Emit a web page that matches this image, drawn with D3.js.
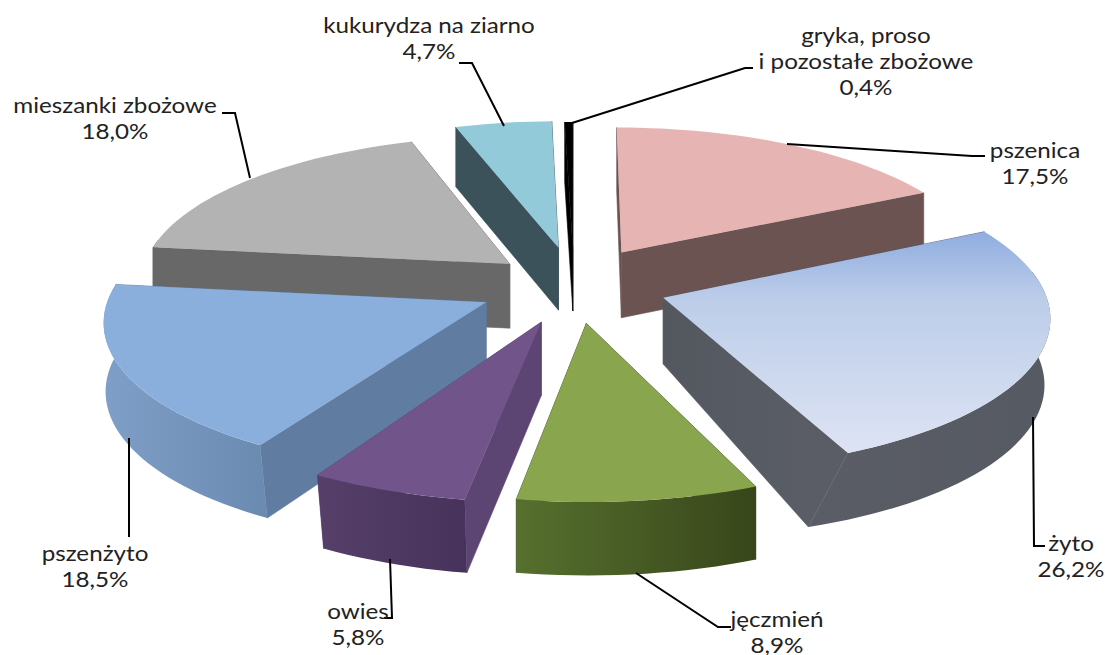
<!DOCTYPE html>
<html><head><meta charset="utf-8">
<script src="https://cdnjs.cloudflare.com/ajax/libs/d3/7.8.5/d3.min.js"></script>
<style>html,body{margin:0;padding:0;background:#fff}svg{display:block}text{font-family:"Lato",sans-serif;font-size:22px;fill:#222;text-anchor:middle}</style>
</head><body><svg id="c" width="1105" height="655"></svg>
<script>
// data
const categories = ["pszenica","żyto","jęczmień","owies","pszenżyto","mieszanki zbożowe","kukurydza na ziarno","gryka, proso|i pozostałe zbożowe"];
const values = [17.5,26.2,8.9,5.8,18.5,18.0,4.7,0.4];
// styles
const topColors = ["#e6b4b3","url(#topRye)","#89a54e","#71558a","#8aafdd","#b3b3b3","#92cad9","#000000"];
const faceColors = ["#6b5352","#53585f","#38461a","#5c4573","#607ca0","#686868","#3b525b","#000000"];
const faceEndColors = ["#6b5352","#5a5d66","#38461a","#5c4573","#607ca0","#686868","#3b525b","#000000"];
const outerFrom = ["#6b5352","#5a5d66","#56702e","#56406a","#7f9fc8","#686868","#3b525b","#000000"];
const outerTo = ["#6b5352","#565a62","#38461a","#46325a","#6a8ab0","#686868","#3b525b","#000000"];
// draw order, back to front
const drawOrder = [5,6,7,0,1,4,3,2];
// label layout: [centre x, first baseline]
const labelPos = [[1035,158],[1071,551],[777,627],[358,619],[95,561],[115,113],[429,33],[866,43]];
const leaders = [
 [[787,144],[972,156],[985,156]],
 [[1033,417],[1034,546],[1045,546]],
 [[636,573],[718,627],[731,627]],
 [[390,559],[392,618],[384,618]],
 [[129,438],[129,537]],
 [[250,178],[235,113],[222,113]],
 [[504,126],[472,63],[459,63]],
 [[572,123],[745,68],[753,68]]
];
// projection
const cx=575, cy=285, Rx=380, Ry=150, P=0.11, depth=66;
const explode=[.26,.245,.25,.255,.255,.225,.26,.25];
const radius=[.965,1,1,1.01,.985,.975,.985,.985];
const depthScale=[1,1,1.03,1.1,1.03,.98,.96,.96];
const bottomR=[1,.985,1,.975,.995,1,1,1];
const bottomEndShift=[0,4,0,0,0,0,0,0];
const topEndShift=[0,-1.5,0,0,0,0,0,0];
const topStartShift=[0,0,0,0,1,0,0,0];
const nudgeX=[-4,0,0,0,-1,0,0,-1];

const svg=d3.select("#c");
const defs=svg.append("defs");
const grTop=defs.append("linearGradient").attr("id","topRye").attr("gradientUnits","userSpaceOnUse")
  .attr("x1",0).attr("x2",0).attr("y1",232).attr("y2",453);
grTop.append("stop").attr("offset",0).attr("stop-color","#8fade0");
grTop.append("stop").attr("offset",.3).attr("stop-color","#bccde9");
grTop.append("stop").attr("offset",1).attr("stop-color","#dde3f3");

const pie=d3.pie().sort(null).value(d=>d);
const arcs=pie(values);
const deg=Math.PI/180;

function proj(X,Z,h){
  const s=1/(1-P*Z);
  return [cx+Rx*X*s, cy+Ry*Z*s+h*depth*(0.5+0.5*s)];
}
function pt(i,a,r,h){
  const d=arcs[i], m=(d.startAngle+d.endAngle)/2, e=explode[i], R=radius[i]*r;
  const X=e*Math.sin(m)+R*Math.sin(a), Z=-e*Math.cos(m)-R*Math.cos(a);
  const p=proj(X,Z,h*depthScale[i]);
  return [p[0]+nudgeX[i],p[1]];
}
function samples(a0,a1){
  const n=Math.max(2,Math.ceil((a1-a0)/deg/2));
  return d3.range(n+1).map(i=>a0+(a1-a0)*i/n);
}
const line=d3.line();
drawOrder.forEach(i=>{
  const d=arcs[i], g=svg.append("g");
  const a0=d.startAngle+topStartShift[i]*deg,a1=d.endAngle+topEndShift[i]*deg;
  const a1b=d.endAngle+bottomEndShift[i]*deg, rb=bottomR[i];
  const apexT=pt(i,0,0,0), apexB=pt(i,0,0,1);
  const face=(at,ab)=>line([apexT,pt(i,at,1,0),pt(i,ab,rb,1),apexB])+"Z";
  const faceId="face"+i;
  const cornerB=pt(i,a1b,rb,1);
  const fg=defs.append("linearGradient").attr("id",faceId).attr("gradientUnits","userSpaceOnUse")
    .attr("x1",apexB[0]).attr("x2",cornerB[0]===apexB[0]?apexB[0]+1:cornerB[0]).attr("y1",0).attr("y2",0);
  fg.append("stop").attr("offset",0).attr("stop-color",faceColors[i]);
  fg.append("stop").attr("offset",1).attr("stop-color",faceEndColors[i]);
  g.append("path").attr("d",face(a0,d.startAngle)).attr("fill",faceColors[i]).attr("stroke",faceColors[i]).attr("stroke-width",.6);
  g.append("path").attr("d",face(a1,a1b)).attr("fill",`url(#${faceId})`).attr("stroke",`url(#${faceId})`).attr("stroke-width",.6);
  const o0=Math.max(a0,80*deg), o1=Math.min(a1,280*deg);
  if(o1>o0){
    const o1b=o1===a1?a1b:o1;
    const o0b=o0===a0?d.startAngle:o0;
    const tops=samples(o0,o1).map(a=>pt(i,a,1,0));
    const bots=samples(o0b,o1b).map(a=>pt(i,a,rb,1)).reverse();
    const all=tops.concat(bots);
    const ext=d3.extent(all,p=>p[0]);
    const id="outer"+i;
    const gr=defs.append("linearGradient").attr("id",id).attr("gradientUnits","userSpaceOnUse")
      .attr("x1",ext[0]).attr("x2",ext[1]).attr("y1",0).attr("y2",0);
    gr.append("stop").attr("offset",0).attr("stop-color",outerFrom[i]);
    gr.append("stop").attr("offset",1).attr("stop-color",outerTo[i]);
    g.append("path").attr("d",line(all)+"Z").attr("fill",`url(#${id})`);
  }
  const topPts=[apexT].concat(samples(a0,a1).map(a=>pt(i,a,1,0)));
  g.append("path").attr("d",line(topPts)+"Z").attr("fill",topColors[i]);
});
// leaders
svg.append("g").selectAll("path").data(leaders).join("path")
  .attr("d",d=>line(d)).attr("fill","none").attr("stroke","#000").attr("stroke-width",2);
// labels
const fmt=v=>d3.format(".1f")(v).replace(".",",")+"%";
categories.forEach((c,i)=>{
  const lines=c.split("|").concat(fmt(values[i]));
  lines.forEach((l,k)=>svg.append("text")
    .attr("transform",`translate(${labelPos[i][0]},${labelPos[i][1]+k*26}) scale(1.1,1)`)
    .text(l));
});
</script></body></html>
